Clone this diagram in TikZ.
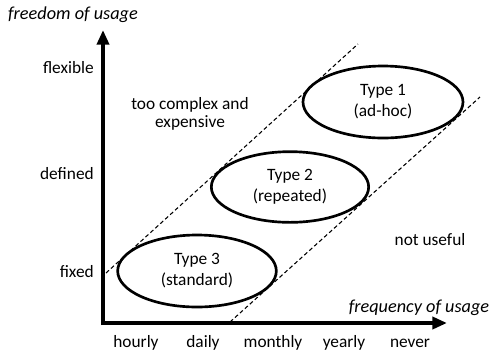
\documentclass[tikz,border=0pt]{standalone}
\usepackage{fontspec}
\setmainfont{Carlito}
\usetikzlibrary{arrows.meta,shapes.geometric}
\begin{document}
\begin{tikzpicture}[x=0.75pt,y=-0.75pt,
  lbl/.style={font=\fontsize{13}{13.5}\selectfont, inner sep=0pt, align=center},
  ital/.style={inner sep=0pt, font=\fontsize{13.7}{16}\selectfont\itshape},
  typebox/.style={ellipse, draw, line width=2pt, inner sep=0pt, align=center, font=\fontsize{13}{15.75}\selectfont},
  axis/.style={line width=3pt, -{Triangle[width=9pt,length=11pt]}},
  guide/.style={line width=0.8pt, dash pattern=on 3pt off 2pt}]
\useasboundingbox (0,0) rectangle (493,355);
\coordinate (origin) at (103,323);
\coordinate (ytip) at (103,30);
\coordinate (xtip) at (447,323);
\draw[axis] ([yshift=-1.5pt]origin) -- (ytip);
\draw[axis] ([xshift=-1.5pt]origin) -- (xtip);
% guide lines
\coordinate (ga) at (106,273);
\coordinate (gb) at (358,44);
\coordinate (gc) at (230,322);
\coordinate (gd) at (480,97);
\draw[guide] (ga) -- (gb);
\draw[guide] (gc) -- (gd);
% ellipses
\node[typebox, minimum width=120pt, minimum height=54pt] (t1) at (383,102) {Type 1\\(ad-hoc)};
\node[typebox, minimum width=118pt, minimum height=53pt] (t2) at (290,187) {Type 2\\(repeated)};
\node[typebox, minimum width=119pt, minimum height=54pt] (t3) at (197,271) {Type 3\\(standard)};
% axis labels
\node[ital] (ylab) at (73,15) {freedom of usage};
\node[ital] (xlab) at (419,308) {frequency of usage};
\node[lbl, anchor=east] (flex) at (94,68) {flexible};
\node[lbl, anchor=east] (defd) at (94,174) {defined};
\node[lbl, anchor=east] (fixd) at (94,272) {fixed};
\node[lbl] (h) at (136,343) {hourly};
\node[lbl] (d) at (203,343) {daily};
\node[lbl] (m) at (273,343) {monthly};
\node[lbl] (yr) at (344,343) {yearly};
\node[lbl] (nv) at (410,343) {never};
\node[lbl] (tc) at (190,114) {too complex and\\expensive};
\node[lbl] (nu) at (430,240) {not useful};
\end{tikzpicture}
\end{document}
